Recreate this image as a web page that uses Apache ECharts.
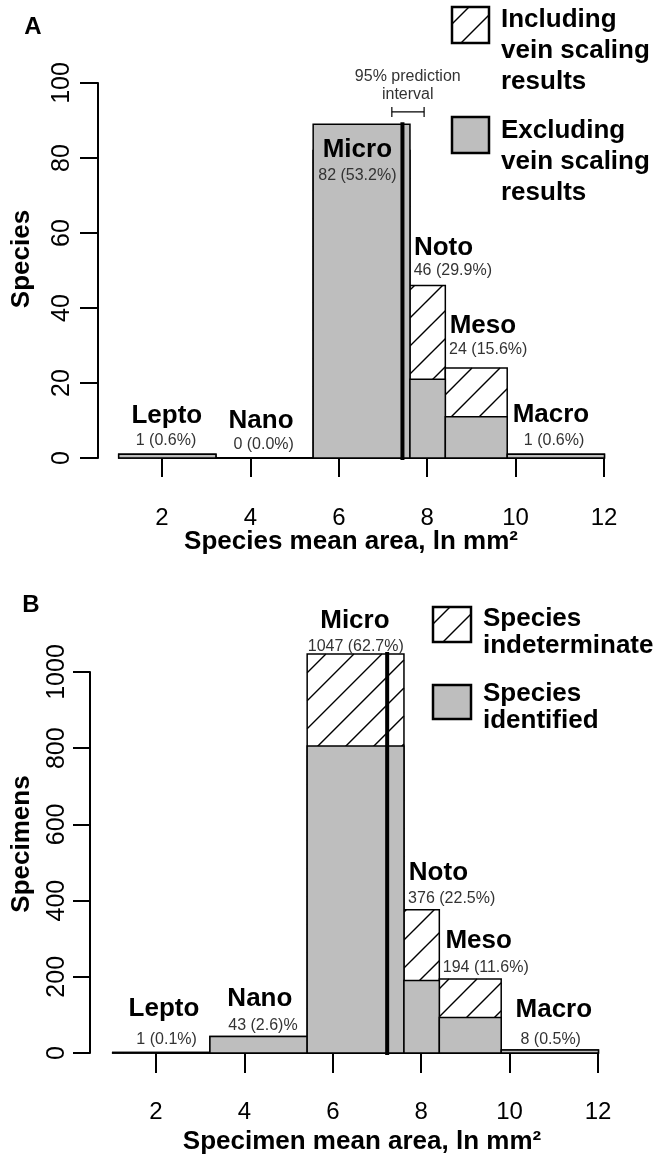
<!DOCTYPE html>
<html>
<head>
<meta charset="utf-8">
<script src="https://cdn.jsdelivr.net/npm/echarts@6/dist/echarts.min.js"></script>
<style>
  html, body { margin: 0; padding: 0; background: #fff; }
  #chart { width: 661px; height: 1160px; }
</style>
</head>
<body>
<div id="chart"></div>
<script>
// leaf size classes, bin edges in ln mm2
const classNames = ["Lepto", "Nano", "Micro", "Noto", "Meso", "Macro"];
const binEdges = [1.02, 3.22, 5.42, 7.61, 8.41, 9.81, 12.01];
const xTicks = [2, 4, 6, 8, 10, 12];

// panel A - species
const speciesIncluding = [1, 0, 82, 46, 24, 1];
const speciesExcluding = [1, 0, 89, 21, 11, 1];
const speciesLabels = ["1 (0.6%)", "0 (0.0%)", "82 (53.2%)", "46 (29.9%)", "24 (15.6%)", "1 (0.6%)"];
const speciesMean = 7.44;
const speciesInterval = [7.2, 7.93];
const speciesTicks = [0, 20, 40, 60, 80, 100];

// panel B - specimens
const specimensAll = [1, 43, 1047, 376, 194, 8];
const specimensIdentified = [1, 43, 806, 190, 93, 8];
const specimenLabels = ["1 (0.1%)", "43 (2.6)%", "1047 (62.7%)", "376 (22.5%)", "194 (11.6%)", "8 (0.5%)"];
const specimenMean = 7.23;
const specimenTicks = [0, 200, 400, 600, 800, 1000];

// where the class names / counts sit (data units)
const nameAnchorsA = [[2.11, 11.2], [4.24, 9.9], [6.42, 82.1], [8.37, 56], [9.26, 35.2], [10.8, 11.5]];
const countAnchorsA = [[2.09, 4.7], [4.3, 3.5], [6.42, 75.2], [8.58, 50], [9.38, 28.8], [10.87, 4.7]];
const nameAnchorsB = [[2.18, 115], [4.35, 142], [6.5, 1134], [8.39, 472], [9.3, 294], [11.0, 112]];
const countAnchorsB = [[2.24, 35], [4.42, 71], [6.52, 1067], [8.69, 404], [9.46, 224], [10.93, 35]];

const FONT = "'Liberation Sans', Arial, Helvetica, sans-serif";
const GRAY = "#bebebe";
const HATCH_STEP = 28;

function hatch(x0, y0, x1, y1, step, phase) {
  const out = [];
  let c = phase == null ? Math.ceil((x0 + y0) / step) * step : x0 + y0 + phase;
  for (; c < x1 + y1; c += step) {
    const xa = Math.max(x0, c - y1);
    const xb = Math.min(x1, c - y0);
    if (xb > xa) out.push([xa, c - xa, xb, c - xb]);
  }
  return out;
}

function hatchedBox(x, y, w, h, step, phase, lw) {
  const kids = [{ type: "rect", shape: { x, y, width: w, height: h }, style: { fill: "#fff" } }];
  hatch(x, y, x + w, y + h, step, phase).forEach((s) => {
    kids.push({ type: "line", shape: { x1: s[0], y1: s[1], x2: s[2], y2: s[3] }, style: { stroke: "#000", lineWidth: 1.4 } });
  });
  kids.push({ type: "rect", shape: { x, y, width: w, height: h }, style: { fill: "none", stroke: "#000", lineWidth: lw } });
  return kids;
}

function barData(values) {
  return values.map((v, i) => [binEdges[i], binEdges[i + 1], v]);
}

function barRender(hatched) {
  return function (params, api) {
    const a = api.coord([api.value(0), 0]);
    const b = api.coord([api.value(1), api.value(2)]);
    const x = a[0], y = b[1], w = b[0] - a[0], h = a[1] - b[1];
    if (hatched) {
      return { type: "group", children: hatchedBox(x, y, w, h, HATCH_STEP, null, 1.5) };
    }
    return { type: "rect", shape: { x, y, width: w, height: h }, style: { fill: GRAY, stroke: "#000", lineWidth: 1.5 } };
  };
}

function textRender(labels, bold) {
  return function (params, api) {
    const p = api.coord([api.value(0), api.value(1)]);
    return {
      type: "text", x: p[0], y: p[1],
      style: {
        text: labels[params.dataIndex], fill: bold ? "#000" : "#333",
        fontSize: bold ? 26 : 16, fontWeight: bold ? "bold" : "normal", fontFamily: FONT,
        align: "center", verticalAlign: "middle"
      }
    };
  };
}

function meanRender(params, api) {
  const a = api.coord([api.value(0), 0]);
  const b = api.coord([api.value(0), api.value(1)]);
  return { type: "line", shape: { x1: a[0], y1: a[1], x2: b[0], y2: b[1] }, style: { stroke: "#000", lineWidth: 4, lineCap: "square" } };
}

function intervalRender(params, api) {
  const a = api.coord([api.value(0), api.value(2)]);
  const b = api.coord([api.value(1), api.value(2)]);
  const st = { stroke: "#000", lineWidth: 1.2 };
  return {
    type: "group", children: [
      { type: "line", shape: { x1: a[0], y1: a[1], x2: b[0], y2: b[1] }, style: st },
      { type: "line", shape: { x1: a[0], y1: a[1] - 5, x2: a[0], y2: a[1] + 5 }, style: st },
      { type: "line", shape: { x1: b[0], y1: b[1] - 5, x2: b[0], y2: b[1] + 5 }, style: st }
    ]
  };
}

function topAt(x, arrs) {
  const i = binEdges.findIndex((e, k) => x >= e && x < binEdges[k + 1]);
  return Math.max(...arrs.map((a) => a[i]));
}

function xAxisCfg(gi, offset, tickLen) {
  return {
    type: "value", gridIndex: gi, min: xTicks[0], max: xTicks[xTicks.length - 1], interval: 2,
    offset, splitLine: { show: false },
    axisLine: { show: true, lineStyle: { color: "#000", width: 2 } },
    axisTick: { show: true, inside: false, length: tickLen, lineStyle: { color: "#000", width: 2 } },
    axisLabel: { color: "#000", fontSize: 24, fontFamily: FONT, margin: 32 }
  };
}

function yAxisCfg(gi, ticks, offset, tickLen, margin) {
  return {
    type: "value", gridIndex: gi, min: ticks[0], max: ticks[ticks.length - 1], interval: ticks[1] - ticks[0],
    offset, splitLine: { show: false },
    axisLine: { show: true, lineStyle: { color: "#000", width: 2 } },
    axisTick: { show: true, inside: false, length: tickLen, lineStyle: { color: "#000", width: 2 } },
    axisLabel: { color: "#000", fontSize: 25, fontFamily: FONT, rotate: 90, margin, formatter: (v) => String(v) }
  };
}

function legendEntry(x, y, w, h, hatched, lines, tx, lineYs) {
  const kids = hatched
    ? hatchedBox(x, y, w, h, HATCH_STEP, 17, 2.5)
    : [{ type: "rect", shape: { x, y, width: w, height: h }, style: { fill: GRAY, stroke: "#000", lineWidth: 2.5 } }];
  lines.forEach((t, i) => {
    kids.push({ type: "text", x: tx, y: lineYs[i], style: { text: t, fill: "#000", fontSize: 26, fontWeight: "bold", fontFamily: FONT, align: "left", verticalAlign: "middle" } });
  });
  return { type: "group", children: kids };
}

function plainText(text, x, y, size, rotation) {
  return { type: "text", x, y, rotation: rotation || 0, style: { text, fill: "#000", fontSize: size, fontWeight: "bold", fontFamily: FONT, align: "center", verticalAlign: "middle" } };
}

const chart = echarts.init(document.getElementById("chart"), null, { renderer: "canvas" });

const option = {
  animation: false,
  backgroundColor: "#fff",
  grid: [
    { left: 162, top: 83, width: 442, height: 375 },
    { left: 156, top: 672, width: 442, height: 381 }
  ],
  xAxis: [xAxisCfg(0, 16, 19), xAxisCfg(1, 15, 20)],
  yAxis: [yAxisCfg(0, speciesTicks, 64, 18, 23), yAxisCfg(1, specimenTicks, 66, 17, 20)],
  series: [
    // panel A
    { type: "custom", xAxisIndex: 0, yAxisIndex: 0, encode: { x: [0, 1], y: 2 }, data: barData(speciesIncluding), renderItem: barRender(true) },
    { type: "custom", xAxisIndex: 0, yAxisIndex: 0, encode: { x: [0, 1], y: 2 }, data: barData(speciesExcluding), renderItem: barRender(false) },
    { type: "custom", xAxisIndex: 0, yAxisIndex: 0, data: [[speciesMean, topAt(speciesMean, [speciesIncluding, speciesExcluding])]], renderItem: meanRender },
    { type: "custom", xAxisIndex: 0, yAxisIndex: 0, data: [[speciesInterval[0], speciesInterval[1], 92.3]], renderItem: intervalRender },
    { type: "custom", xAxisIndex: 0, yAxisIndex: 0, data: nameAnchorsA, renderItem: textRender(classNames, true) },
    { type: "custom", xAxisIndex: 0, yAxisIndex: 0, data: countAnchorsA, renderItem: textRender(speciesLabels, false) },
    { type: "custom", xAxisIndex: 0, yAxisIndex: 0, data: [[7.56, 101.6], [7.56, 96.8]], renderItem: function (params, api) {
        const p = api.coord([api.value(0), api.value(1)]);
        return { type: "text", x: p[0], y: p[1], style: { text: ["95% prediction", "interval"][params.dataIndex], fill: "#333", fontSize: 16, fontFamily: FONT, align: "center", verticalAlign: "middle" } };
      } },
    // panel B
    { type: "custom", xAxisIndex: 1, yAxisIndex: 1, encode: { x: [0, 1], y: 2 }, data: barData(specimensAll), renderItem: barRender(true) },
    { type: "custom", xAxisIndex: 1, yAxisIndex: 1, encode: { x: [0, 1], y: 2 }, data: barData(specimensIdentified), renderItem: barRender(false) },
    { type: "custom", xAxisIndex: 1, yAxisIndex: 1, data: [[specimenMean, topAt(specimenMean, [specimensAll, specimensIdentified])]], renderItem: meanRender },
    { type: "custom", xAxisIndex: 1, yAxisIndex: 1, data: nameAnchorsB, renderItem: textRender(classNames, true) },
    { type: "custom", xAxisIndex: 1, yAxisIndex: 1, data: countAnchorsB, renderItem: textRender(specimenLabels, false) }
  ],
  graphic: [
    plainText("A", 33, 27, 24),
    plainText("B", 31, 605, 24),
    plainText("Species", 22, 259, 26, Math.PI / 2),
    plainText("Specimens", 22, 844, 26, Math.PI / 2),
    plainText("Species mean area, ln mm\u00b2", 351, 542, 26),
    plainText("Specimen mean area, ln mm\u00b2", 362, 1142, 26),
    legendEntry(452, 7, 37, 36, true, ["Including", "vein scaling", "results"], 501, [20, 51, 82]),
    legendEntry(452, 117, 37, 36, false, ["Excluding", "vein scaling", "results"], 501, [131, 162, 193]),
    legendEntry(433, 607, 38, 35, true, ["Species", "indeterminate"], 483, [619, 646]),
    legendEntry(433, 685, 38, 34, false, ["Species", "identified"], 483, [694, 721])
  ]
};

chart.setOption(option);
</script>
</body>
</html>
